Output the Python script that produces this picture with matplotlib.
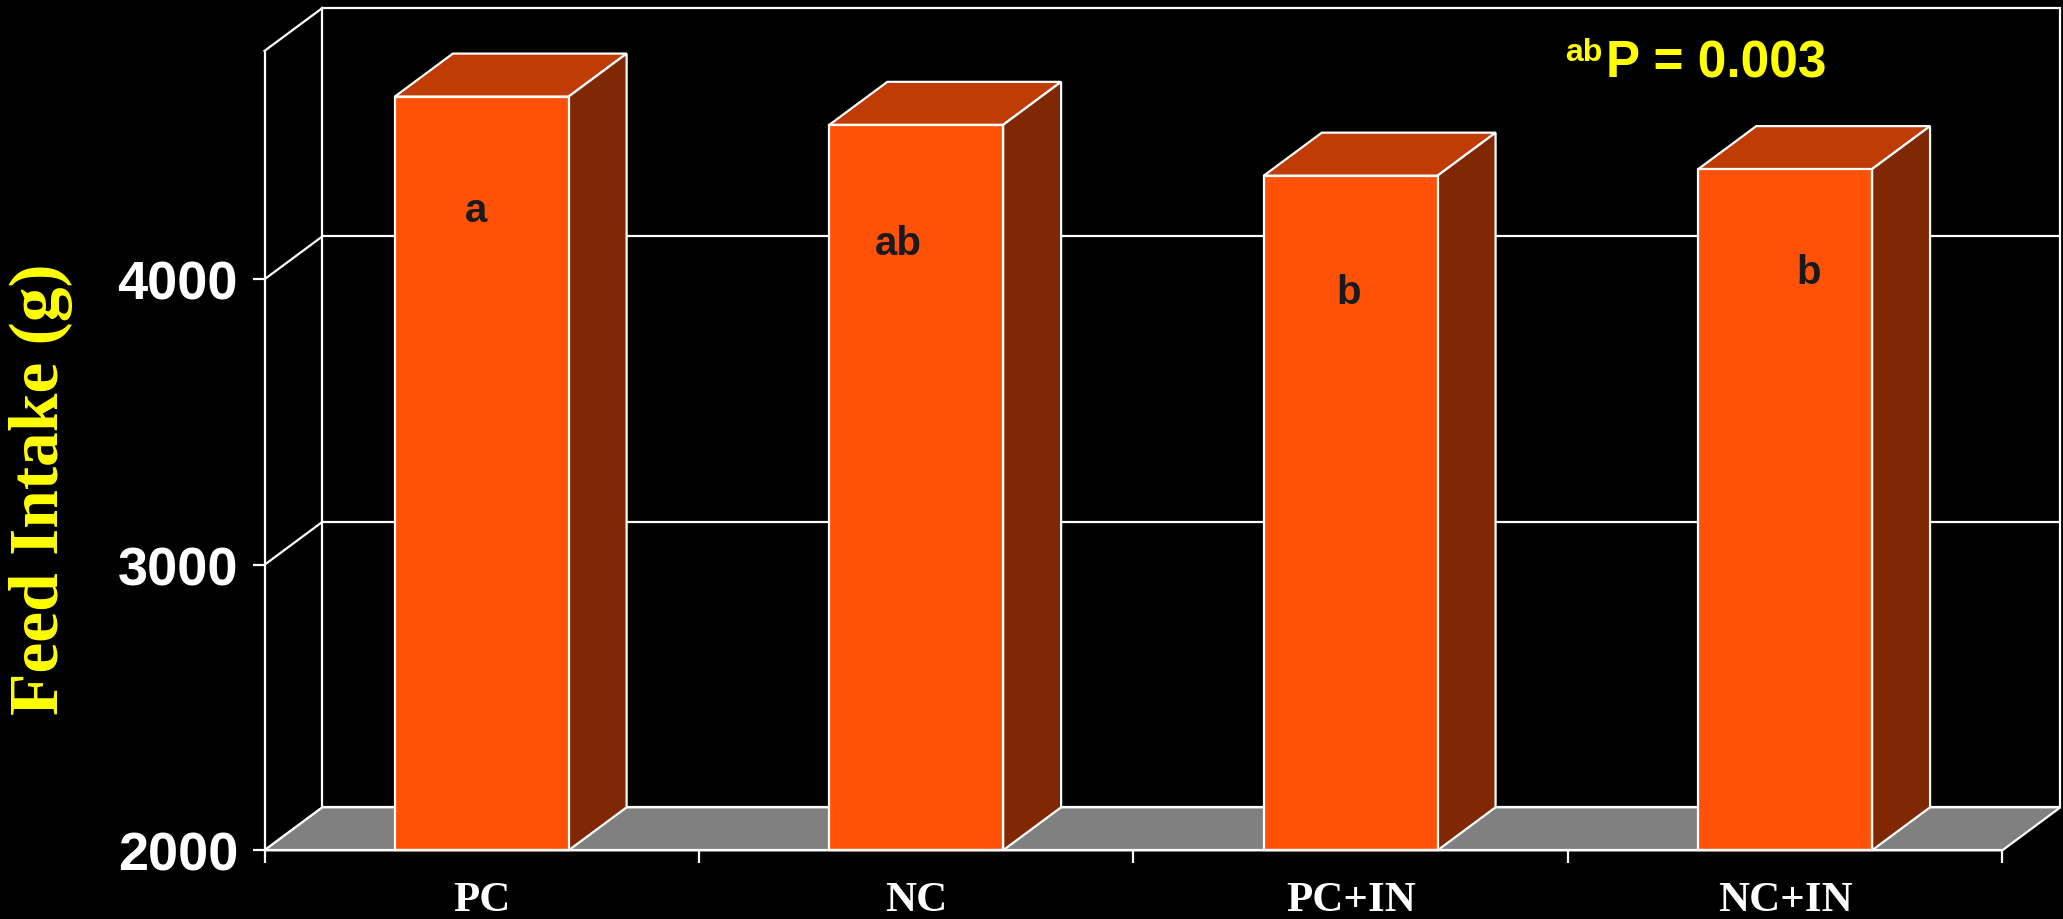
import matplotlib
matplotlib.use('Agg')
import matplotlib.pyplot as plt
from matplotlib.patches import Polygon, Rectangle

# data
groups = ['PC', 'NC', 'PC+IN', 'NC+IN']
feed_intake = [4640, 4541, 4363, 4386]
letters = ['a', 'ab', 'b', 'b']
p_text = 'P = 0.003'
y_ticks = [2000, 3000, 4000]

# layout of the fake 3d box
Y_MIN, Y_MAX = 2000, 4800
DX = 58 / 434.5          # depth offset in category units
DY = 43 / 285.5 * 1000   # depth offset in grams
BAR_W = 0.4
letter_dx = [-0.014, -0.041, -0.005, 0.055]
letter_drop = [436, 452, 446, 399]

FRONT = '#FF5208'
TOP = '#C03C05'
SIDE = '#802803'
FLOOR = '#808080'
EDGE = 'white'
LW = 1.6

fig = plt.figure(figsize=(20.63, 9.2), dpi=100, facecolor='black')
ax = fig.add_axes([264.5 / 2063, (920 - 851.3) / 920, 1795.9 / 2063, 842.4 / 920])
ax.set_facecolor('black')
n = len(groups)
ax.set_xlim(0, n + DX)
ax.set_ylim(Y_MIN, Y_MAX + DY)

# back wall + grid
ax.add_patch(Rectangle((DX, Y_MIN + DY), n, Y_MAX - Y_MIN, facecolor='black',
                       edgecolor=EDGE, lw=LW, clip_on=False, zorder=1))
for y in y_ticks[1:]:
    ax.plot([DX, n + DX], [y + DY, y + DY], color=EDGE, lw=LW, zorder=1.5)
# left wall diagonals
for y in y_ticks + [Y_MAX]:
    ax.plot([0, DX], [y, y + DY], color=EDGE, lw=LW, clip_on=False, zorder=1.5)

# floor
ax.add_patch(Polygon([(0, Y_MIN), (n, Y_MIN), (n + DX, Y_MIN + DY), (DX, Y_MIN + DY)],
                     closed=True, facecolor=FLOOR, edgecolor=EDGE, lw=LW,
                     clip_on=False, zorder=2))

# bars
for i, v in enumerate(feed_intake):
    x0 = i + (1 - BAR_W) / 2
    x1 = x0 + BAR_W
    ax.add_patch(Polygon([(x0, v), (x1, v), (x1 + DX, v + DY), (x0 + DX, v + DY)],
                         closed=True, facecolor=TOP, edgecolor=EDGE, lw=LW, zorder=3))
    ax.add_patch(Polygon([(x1, Y_MIN), (x1 + DX, Y_MIN + DY), (x1 + DX, v + DY), (x1, v)],
                         closed=True, facecolor=SIDE, edgecolor=EDGE, lw=LW, zorder=3))
    ax.add_patch(Rectangle((x0, Y_MIN), BAR_W, v - Y_MIN, facecolor=FRONT,
                           edgecolor=EDGE, lw=LW, zorder=4, clip_on=False))
    ax.text(i + 0.5 + letter_dx[i], v - letter_drop[i], letters[i], ha='center',
            va='baseline', fontsize=29, fontweight='bold', color='#1a1a1a',
            family='Liberation Sans', zorder=5)

# significance note
ax.text(3.087, 4712, p_text, ha='left', va='baseline', fontsize=37,
        fontweight='bold', color='yellow', family='Liberation Sans')
ax.text(3.080, 4768, 'ab', ha='right', va='baseline', fontsize=23,
        fontweight='bold', color='yellow', family='Liberation Sans')

# axes
for s in ['top', 'right']:
    ax.spines[s].set_visible(False)
ax.spines['left'].set_bounds(Y_MIN, Y_MAX)
ax.spines['bottom'].set_bounds(0, n)
for s in ['left', 'bottom']:
    ax.spines[s].set_color(EDGE)
    ax.spines[s].set_linewidth(LW)
    ax.spines[s].set_zorder(6)

ax.set_yticks(y_ticks)
ax.set_yticklabels([str(t) for t in y_ticks], fontsize=39, fontweight='bold',
                   color='white', family='Liberation Sans')
ax.tick_params(axis='y', colors=EDGE, length=9, width=LW, pad=10)

ax.set_xticks(range(n + 1))
ax.set_xticklabels([])
ax.set_xticks([i + 0.5 for i in range(n)], minor=True)
ax.set_xticklabels(groups, minor=True, fontsize=31, fontweight='bold',
                   color='white', family='Liberation Serif')
ax.tick_params(axis='x', which='major', colors=EDGE, length=9.5, width=LW)
ax.tick_params(axis='x', which='minor', length=0, pad=22, labelcolor='white')

ax.set_ylabel('Feed Intake (g)', fontsize=50, fontweight='bold', color='yellow',
              family='Liberation Serif')
ax.yaxis.set_label_coords(-0.1065, 0.43)

fig.savefig('out.png', dpi=100, facecolor='black')
